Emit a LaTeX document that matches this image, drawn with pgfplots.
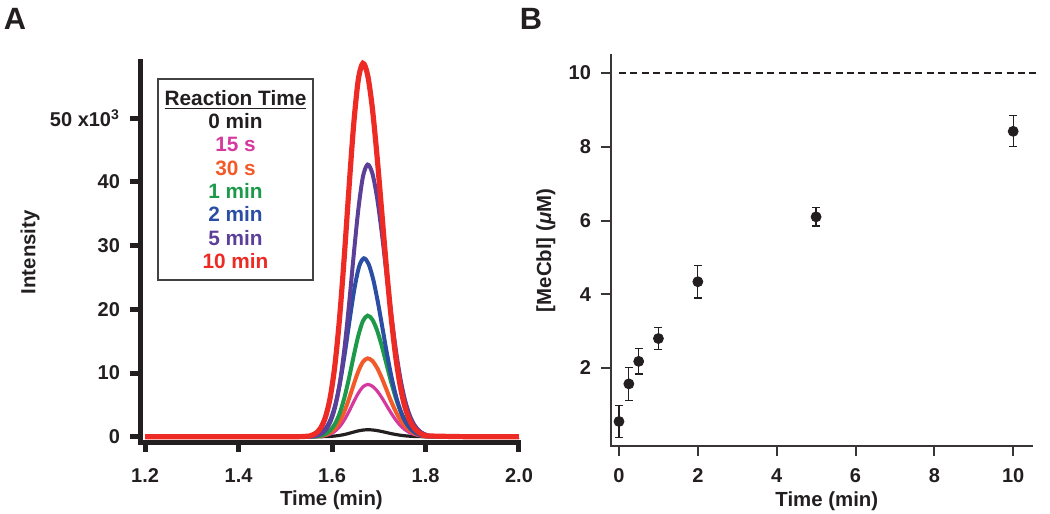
\documentclass[border=0pt]{standalone}
\usepackage{fontspec}
\setmainfont{Liberation Sans}
\usepackage{pgfplots}
\usepackage{pgfplotstable}
\pgfplotsset{compat=1.18}
\definecolor{ink}{HTML}{231F20}
\definecolor{cred}{HTML}{EE2A24}
\definecolor{cpurple}{HTML}{5C3F98}
\definecolor{cblue}{HTML}{2B4DA3}
\definecolor{cgreen}{HTML}{1C9A4A}
\definecolor{corange}{HTML}{F25A2A}
\definecolor{cpink}{HTML}{D6399E}

% chromatograms: red peak at 1.666, blue at 1.668, the others at 1.676
\pgfplotstableread{
xr    xb    xo    k     pk    o     g     b     p     r
1.200 1.200 1.200 0.00  0.00  0.00  0.00  0.00  0.00  0.00
1.500 1.500 1.500 0.00  0.00  0.00  0.00  0.00  0.00  0.00
1.546 1.548 1.556 0.00  0.01  0.02  0.02  0.04  0.06  0.08
1.556 1.558 1.566 0.00  0.03  0.05  0.07  0.11  0.17  0.23
1.566 1.568 1.576 0.01  0.08  0.12  0.19  0.28  0.43  0.59
1.576 1.578 1.586 0.03  0.20  0.30  0.46  0.68  1.04  1.42
1.586 1.588 1.596 0.06  0.43  0.65  1.01  1.48  2.26  3.11
1.596 1.598 1.606 0.12  0.86  1.29  2.00  2.94  4.48  6.15
1.606 1.608 1.616 0.21  1.57  2.35  3.63  5.35  8.16  11.19
1.616 1.618 1.626 0.35  2.60  3.90  6.02  8.88  13.54 18.58
1.626 1.628 1.636 0.53  3.94  5.90  9.12  13.44 20.50 28.13
1.636 1.638 1.646 0.73  5.43  8.14  12.58 18.54 28.27 38.79
1.646 1.648 1.656 0.92  6.82  10.23 15.81 23.30 35.53 48.76
1.656 1.658 1.666 1.05  7.83  11.75 18.15 26.74 40.78 55.96
1.666 1.668 1.676 1.10  8.20  12.30 19.00 28.00 42.70 58.60
1.676 1.678 1.686 1.07  7.95  11.92 18.41 27.13 41.38 56.78
1.686 1.688 1.696 0.97  7.23  10.85 16.76 24.70 37.66 51.69
1.696 1.698 1.706 0.83  6.19  9.29  14.35 21.14 32.24 44.24
1.706 1.708 1.716 0.67  4.98  7.47  11.53 17.00 25.92 35.57
1.716 1.718 1.726 0.50  3.76  5.63  8.70  12.82 19.56 26.84
1.726 1.728 1.736 0.36  2.67  4.00  6.18  9.10  13.88 19.05
1.736 1.738 1.746 0.24  1.77  2.66  4.10  6.05  9.22  12.66
1.746 1.748 1.756 0.15  1.11  1.66  2.57  3.78  5.76  7.91
1.756 1.758 1.766 0.09  0.65  0.98  1.51  2.23  3.40  4.66
1.766 1.768 1.776 0.05  0.36  0.54  0.83  1.23  1.87  2.57
1.776 1.778 1.786 0.03  0.19  0.28  0.43  0.64  0.97  1.34
1.786 1.788 1.796 0.01  0.09  0.14  0.21  0.31  0.47  0.65
1.796 1.798 1.806 0.01  0.04  0.06  0.10  0.14  0.22  0.30
1.806 1.808 1.816 0.00  0.02  0.03  0.04  0.06  0.09  0.13
1.900 1.900 1.900 0.00  0.00  0.00  0.00  0.00  0.00  0.00
2.000 2.000 2.000 0.00  0.00  0.00  0.00  0.00  0.00  0.00
}\chrom

\pgfplotsset{
  panel/.style={
    scale only axis,
    anchor=south west,
    axis x line*=bottom,
    axis y line*=left,
    tick align=outside,
    major tick length=5pt,
    /pgf/number format/assume math mode=true,
    ticklabel style={font=\bfseries\fontsize{10}{12}\selectfont, text=ink},
    label style={font=\bfseries\fontsize{10.2}{12}\selectfont, text=ink},
    clip=false,
  },
}

\begin{document}
\begin{tikzpicture}[x=1pt,y=1pt]
\useasboundingbox (0pt,0pt) rectangle (525pt,257pt);

% ---- panel A
\begin{axis}[panel,
  at={(70pt,35.75pt)}, width=189.5pt, height=190.25pt,
  xmin=1.189, xmax=2.0, ymin=-0.9, ymax=58.8,
  axis line style={line width=2.5pt, ink, line cap=rect},
  tick style={line width=2.5pt, ink},
  xtick={1.2,1.4,1.6,1.8,2.0},
  xticklabel style={yshift=-4.5pt, /pgf/number format/.cd, fixed, fixed zerofill, precision=1},
  yticklabel style={xshift=-1.5pt},
  ytick={0,10,20,30,40,50},
  yticklabels={0,10,20,30,40,{50 x10\textsuperscript{3}}},
  xlabel={Time (min)}, ylabel={Intensity},
  xlabel style={at={(axis description cs:0.505,-0.152)}, anchor=center},
  ylabel style={at={(axis description cs:-0.29,0.5)}, anchor=center},
]
\addplot[smooth, ink, line width=1.6pt] table[x=xo, y=k] {\chrom};
\addplot[smooth, cpink, line width=1.6pt] table[x=xo, y=pk] {\chrom};
\addplot[smooth, corange, line width=2pt] table[x=xo, y=o] {\chrom};
\addplot[smooth, cgreen, line width=2pt] table[x=xo, y=g] {\chrom};
\addplot[smooth, cblue, line width=2pt] table[x=xb, y=b] {\chrom};
\addplot[smooth, cpurple, line width=2pt] table[x=xo, y=p] {\chrom};
\addplot[smooth, cred, line width=2.6pt] table[x=xr, y=r] {\chrom};
\end{axis}

\node[draw=ink!85, line width=0.75pt, minimum width=77.5pt, minimum height=100.5pt,
  inner sep=0pt, align=center, text=ink,
  font=\bfseries\fontsize{10.4}{11.65}\selectfont] at (117.75pt,167.25pt)
  {\underline{Reaction Time}\\ 0 min\\ \textcolor{cpink}{15 s}\\ \textcolor{corange}{30 s}\\
   \textcolor{cgreen}{1 min}\\ \textcolor{cblue}{2 min}\\ \textcolor{cpurple}{5 min}\\
   \textcolor{cred}{10 min}};

% ---- panel B
\begin{axis}[panel,
  at={(305.5pt,34.15pt)}, width=210.35pt, height=195.35pt,
  xmin=-0.203, xmax=10.47, ymin=-0.107, ymax=10.49,
  axis line style={line width=1pt, ink!90, line cap=rect},
  tick style={line width=1pt, ink!90},
  xtick={0,2,4,6,8,10},
  ytick={2,4,6,8,10},
  xticklabel style={yshift=-3pt},
  yticklabel style={xshift=-1.5pt},
  xlabel={Time (min)}, ylabel={[MeCbl] (\textit{μ}M)},
  xlabel style={at={(axis description cs:0.513,-0.143)}, anchor=center},
  ylabel style={at={(axis description cs:-0.155,0.5)}, anchor=center},
]
\addplot[ink, line width=0.6pt, dash pattern=on 3.5pt off 2.2pt] coordinates {(0,10) (10.69,10)};
\addplot[only marks, mark=*, mark size=2.5pt, color=ink,
  error bars/.cd, y dir=both, y explicit,
  error bar style={line width=0.6pt, ink},
  error mark options={rotate=90, mark size=2pt, line width=0.6pt, ink}]
  coordinates {
  (0,0.55) +- (0,0.44)
  (0.25,1.57) +- (0,0.45)
  (0.5,2.18) +- (0,0.34)
  (1,2.80) +- (0,0.30)
  (2,4.34) +- (0,0.44)
  (5,6.10) +- (0,0.25)
  (10,8.42) +- (0,0.42)
  };
\end{axis}

\node[font=\bfseries\fontsize{15.4}{18}\selectfont, text=ink] at (7.5pt,247.5pt) {A};
\node[font=\bfseries\fontsize{15.4}{18}\selectfont, text=ink] at (265.5pt,247.5pt) {B};
\end{tikzpicture}
\end{document}
